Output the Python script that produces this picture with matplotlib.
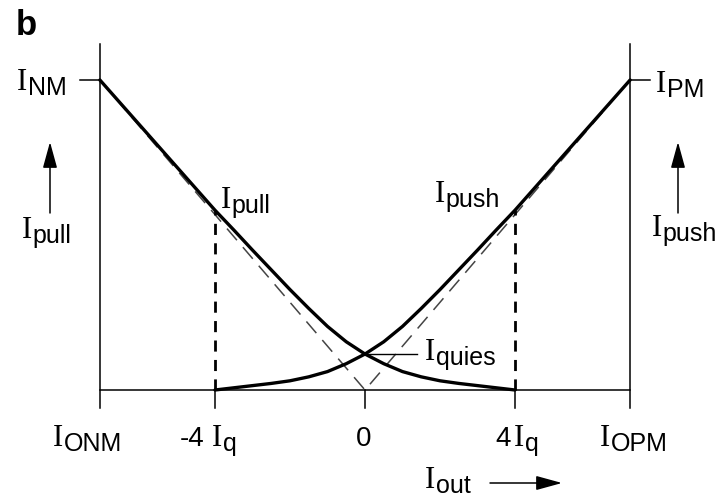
import matplotlib
matplotlib.use("Agg")
import matplotlib.pyplot as plt

# Output current in units of Iq; full scale (I_ONM / I_OPM) and I_NM / I_PM
out_max = 7.07
i_max = 7.07
iq_marks = [-4, 0, 4]

# Push transistor current versus output current
iout_push = [-4, -3.5, -3, -2.5, -2, -1.5, -1, -0.5, 0, 0.5, 1, 1.5, 2, 2.5, 3, 3.5, 4, 7.07]
i_push = [0, 0.05, 0.1, 0.15, 0.21, 0.3, 0.42, 0.6, 0.82, 1.1, 1.45, 1.86, 2.29, 2.74, 3.19, 3.65, 4.1, 7.07]

# Pull transistor current versus output current
iout_pull = [-7.07, -4, -3.5, -3, -2.5, -2, -1.5, -1, -0.5, 0, 0.5, 1, 1.5, 2, 2.5, 3, 3.5, 4]
i_pull = [7.07, 4.1, 3.65, 3.19, 2.74, 2.29, 1.86, 1.45, 1.1, 0.82, 0.6, 0.42, 0.3, 0.21, 0.15, 0.1, 0.05, 0]

# Ideal class-B currents (|Iout|)
iout_ideal = [-7.07, 0, 7.07]
i_ideal = [7.07, 0, 7.07]

W, H = 724, 498
X0, SX = 365.0, 37.5     # pixel position of Iout = 0, pixels per unit
Y0, SY = 390.0, 43.85    # pixel position of I = 0, pixels per unit

fig = plt.figure(figsize=(W / 100, H / 100), dpi=100)
ax = fig.add_axes([0, 0, 1, 1])
ax.set_xlim((0 - X0) / SX, (W - X0) / SX)
ax.set_ylim((Y0 - H) / SY, Y0 / SY)
ax.axis("off")


def P(xp, yp):
    """Layout helper: pixel position -> data coordinates."""
    return (xp - X0) / SX, (Y0 - yp) / SY


SERIF = "Liberation Serif"
SANS = "Liberation Sans"


def cur_label(xp, yp, sub, main_size=22, sub_size=18, drop=2.0, gap=0.5):
    x, y = P(xp, yp)
    t = ax.text(x, y, "I", fontfamily=SERIF, fontsize=main_size,
                va="baseline", ha="left", color="black")
    ax.annotate(sub, xy=(1, 0), xycoords=t, xytext=(gap, -drop),
                textcoords="offset points", fontfamily=SANS,
                fontsize=sub_size, va="bottom", ha="left", color="black")
    return t


# Frame: vertical rails and baseline
top = (Y0 - 44) / SY
tick_len = 18 / SY
ax.plot([-out_max, -out_max], [-tick_len, top], color="black", lw=1.1)
ax.plot([out_max, out_max], [-tick_len, top], color="black", lw=1.1)
ax.plot([-out_max, out_max], [0, 0], color="black", lw=1.1)
for xm in iq_marks:
    ax.plot([xm, xm], [-tick_len, 0], color="black", lw=1.1)
# Full-scale ticks for I_NM and I_PM
ax.plot([-out_max - 20 / SX, -out_max], [i_max, i_max], color="black", lw=1.1)
ax.plot([out_max, out_max + 20 / SX], [i_max, i_max], color="black", lw=1.1)

# Ideal V characteristic
ax.plot(iout_ideal, i_ideal, color="#444444", lw=1.1, dashes=(10, 6))

# Vertical markers at +-4 Iq
ax.plot([-4, -4], [0, i_pull[1]], color="black", lw=2.0, dashes=(4, 3))
ax.plot([4, 4], [0, i_push[-2]], color="black", lw=2.0, dashes=(4, 3))

# Push and pull currents
ax.plot(iout_pull, i_pull, color="black", lw=2.4, solid_capstyle="round",
        solid_joinstyle="round")
ax.plot(iout_push, i_push, color="black", lw=2.4, solid_capstyle="round",
        solid_joinstyle="round")

# Leader for the quiescent current
ax.plot([0, (417 - X0) / SX], [i_push[8], i_push[8]], color="black", lw=1.0)

# Arrows
arrow_style = "-|>,head_length=0.8,head_width=0.22"
for xp in (50, 678):
    ax.annotate("", xy=P(xp, 142), xytext=P(xp, 213),
                arrowprops=dict(arrowstyle=arrow_style, lw=1.1, color="black",
                                mutation_scale=20, shrinkA=0, shrinkB=0))
ax.annotate("", xy=P(562, 483), xytext=P(490, 483),
            arrowprops=dict(arrowstyle=arrow_style, lw=1.1, color="black",
                            mutation_scale=20, shrinkA=0, shrinkB=0))

# Labels
cur_label(17, 90, "NM")
cur_label(656, 92, "PM")
cur_label(22, 238, "pull")
cur_label(652, 236, "push")
cur_label(221, 208, "pull")
cur_label(435, 202, "push")
cur_label(425, 360, "quies")

# Axis labels along the bottom
cur_label(53, 446, "ONM")
ax.text(*P(205, 446), "-4", fontfamily=SANS, fontsize=20, va="baseline", ha="right")
cur_label(212, 446, "q")
ax.text(*P(364, 446), "0", fontfamily=SANS, fontsize=20, va="baseline", ha="center")
ax.text(*P(495, 446), "4", fontfamily=SANS, fontsize=20, va="baseline", ha="left")
cur_label(514, 446, "q")
cur_label(600, 446, "OPM")
cur_label(425, 488, "out")

# Panel letter
ax.text(*P(16, 35), "b", fontfamily=SANS, fontsize=25, fontweight="bold",
        va="baseline", ha="left")

fig.savefig("out.png", dpi=100)
